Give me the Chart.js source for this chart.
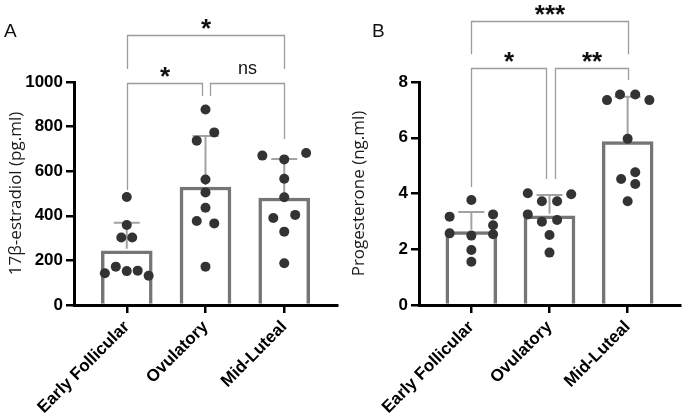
<!DOCTYPE html>
<html>
<head>
<meta charset="utf-8">
<script src="https://cdn.jsdelivr.net/npm/chart.js@4.4.1/dist/chart.umd.min.js"></script>
<style>
  html, body { margin: 0; padding: 0; background: #fff; }
  #wrap { position: relative; width: 685px; height: 416px; overflow: hidden; }
  canvas { position: absolute; top: 0; }
  .panel { position: absolute; top: 21px; font: 19px "Liberation Sans", Arial, sans-serif; line-height: 1; color: #111; }
</style>
</head>
<body>
<div id="wrap">
  <canvas id="chartA" width="342" height="416" style="left:0"></canvas>
  <canvas id="chartB" width="342" height="416" style="left:343px"></canvas>
  <div class="panel" style="left:4px">A</div>
  <div class="panel" style="left:372px">B</div>
</div>
<script>
// --- data ---
const groups = ['Early Follicular', 'Ovulatory', 'Mid-Luteal'];

const estradiolTicks = [0, 200, 400, 600, 800, 1000];
const estradiolMean = [243, 529, 480];
const estradiolUpper = [369, 758, 655];   // mean + SD
const estradiolValues = [
    [484, 359, 303, 303, 142, 172, 152, 154, 131],
    [877, 774, 737, 563, 505, 436, 377, 366, 172],
    [670, 653, 682, 566, 483, 390, 404, 329, 187]
];
const estradiolJitter = [
    [0, 0, -0.5, 0.5, -2, -1, 0, 1, 2],
    [0, 0.8, -0.8, 0, 0, 0, -0.8, 0.8, 0],
    [-2, 0, 2, 0, 0, -1, 1, 0, 0]
];
// [from, to, top, left leg end, right leg end, label]
const estradiolBrackets = [
    [0, 2, 1211, 1058, 1058, '*'],
    [0, 0.95, 997, 516, 937, '*'],
    [1.06, 2, 997, 937, 744, 'ns']
];

const progesteroneTicks = [0, 2, 4, 6, 8];
const progesteroneMean = [2.63, 3.20, 5.86];
const progesteroneUpper = [3.34, 3.95, 7.47];
const progesteroneValues = [
    [3.77, 3.17, 3.25, 2.86, 2.57, 2.49, 2.54, 1.97, 1.55],
    [4.01, 3.97, 3.72, 3.72, 3.25, 2.99, 3.05, 2.51, 1.88],
    [7.35, 7.55, 7.55, 7.35, 5.96, 4.52, 4.76, 4.34, 3.72]
];
const progesteroneJitter = [
    [0, -2, 2, 2, -2, 0, 2, 0, 0],
    [-2, 2, -0.7, 0.7, -2, -0.7, 0.7, 0, 0],
    [-1.9, -0.7, 0.7, 2, 0, -0.6, 0.7, 0.7, 0]
];
const progesteroneBrackets = [
    [0, 2, 10.19, 9.0, 9.0, '***'],
    [0, 0.95, 8.5, 4.23, 4.52, '*'],
    [1.07, 2, 8.5, 4.52, 8.07, '**']
];

const JITTER = 0.139;   // one jitter step in category units
const FONT = '"Liberation Sans", Arial, sans-serif';

// error bars (after the bars, under the points) and significance brackets
const overlay = {
    id: 'overlay',
    afterDatasetDraw(chart, args, opts) {
        if (args.index !== 0) return;
        const { ctx, scales: { x, y } } = chart;
        ctx.save();
        ctx.strokeStyle = '#a3a3a3';
        ctx.lineWidth = 2;
        opts.mean.forEach((m, i) => {
            const px = x.getPixelForValue(i);
            const y0 = y.getPixelForValue(m);
            const y1 = y.getPixelForValue(opts.upper[i]);
            ctx.beginPath();
            ctx.moveTo(px, y0 - 2);
            ctx.lineTo(px, y1);
            ctx.moveTo(px - 13, y1);
            ctx.lineTo(px + 13, y1);
            ctx.stroke();
        });
        ctx.restore();
    },
    afterDraw(chart, args, opts) {
        const { ctx, scales: { x, y } } = chart;
        ctx.save();
        ctx.strokeStyle = '#9c9c9c';
        ctx.lineWidth = 1.3;
        ctx.fillStyle = '#111';
        ctx.textAlign = 'center';
        opts.brackets.forEach(([a, b, top, l, r, label]) => {
            const xa = Math.round(x.getPixelForValue(a)) + 0.5;
            const xb = Math.round(x.getPixelForValue(b)) + 0.5;
            const yt = Math.round(y.getPixelForValue(top)) + 0.5;
            ctx.beginPath();
            ctx.moveTo(xa, y.getPixelForValue(l));
            ctx.lineTo(xa, yt);
            ctx.lineTo(xb, yt);
            ctx.lineTo(xb, y.getPixelForValue(r));
            ctx.stroke();
            const cx = (xa + xb) / 2;
            if (label === 'ns') {
                ctx.font = '18px ' + FONT;
                ctx.fillText(label, cx, yt - 10);
            } else {
                ctx.font = 'bold 26px ' + FONT;
                ctx.fillText(label, cx, yt + 1);
            }
        });
        ctx.restore();
    }
};

function makeChart(id, cfg) {
    const points = [];
    cfg.values.forEach((vals, i) => {
        vals.forEach((v, k) => points.push({ x: i + cfg.jitter[i][k] * JITTER, y: v }));
    });
    return new Chart(document.getElementById(id), {
        type: 'bar',
        data: {
            datasets: [
                {
                    type: 'bar',
                    data: cfg.mean.map((m, i) => ({ x: i, y: m })),
                    backgroundColor: '#ffffff',
                    borderColor: '#757575',
                    borderWidth: 3.5,
                    barThickness: 51,
                    order: 2
                },
                {
                    type: 'scatter',
                    data: points,
                    backgroundColor: '#333333',
                    borderWidth: 0,
                    pointRadius: 5,
                    order: 1
                }
            ]
        },
        options: {
            responsive: false,
            animation: false,
            events: [],
            layout: { padding: { top: 82, right: cfg.padRight, left: 0, bottom: 0 } },
            plugins: {
                legend: { display: false },
                tooltip: { enabled: false },
                overlay: { mean: cfg.mean, upper: cfg.upper, brackets: cfg.brackets }
            },
            scales: {
                x: {
                    type: 'linear',
                    offset: false,
                    min: -0.67,
                    max: 2.67,
                    afterBuildTicks: s => { s.ticks = groups.map((g, i) => ({ value: i })); },
                    afterFit: s => { s.height = 111; },
                    border: { display: true, color: '#000', width: 3 },
                    grid: { offset: false, drawOnChartArea: false, color: '#000', lineWidth: 2.5, tickLength: 8 },
                    ticks: {
                        autoSkip: false,
                        minRotation: 45,
                        maxRotation: 45,
                        padding: 4,
                        color: '#000',
                        font: { family: FONT, size: 17, weight: 'bold' },
                        callback: v => groups[v]
                    }
                },
                y: {
                    min: 0,
                    max: cfg.max,
                    afterBuildTicks: s => { s.ticks = cfg.ticks.map(v => ({ value: v })); },
                    afterFit: s => { s.width = cfg.axisLeft; },
                    border: { display: true, color: '#000', width: 3 },
                    grid: { drawOnChartArea: false, color: '#000', lineWidth: 2.5, tickLength: 8 },
                    ticks: {
                        padding: 3,
                        color: '#000',
                        font: { family: FONT, size: 17, weight: 'bold' },
                        callback: v => String(v)
                    },
                    title: {
                        display: true,
                        text: cfg.title,
                        color: '#1a1a1a',
                        padding: { top: 6, bottom: 0 },
                        font: { family: '"Open Sans", sans-serif', size: 17 }
                    }
                }
            }
        },
        plugins: [overlay]
    });
}

makeChart('chartA', {
    mean: estradiolMean, upper: estradiolUpper, values: estradiolValues, jitter: estradiolJitter,
    brackets: estradiolBrackets, ticks: estradiolTicks, max: 1000,
    title: '17β-estradiol (pg.ml)', axisLeft: 74, padRight: 4
});

makeChart('chartB', {
    mean: progesteroneMean, upper: progesteroneUpper, values: progesteroneValues, jitter: progesteroneJitter,
    brackets: progesteroneBrackets, ticks: progesteroneTicks, max: 8,
    title: 'Progesterone (ng.ml)', axisLeft: 76, padRight: 2
});
</script>
</body>
</html>
